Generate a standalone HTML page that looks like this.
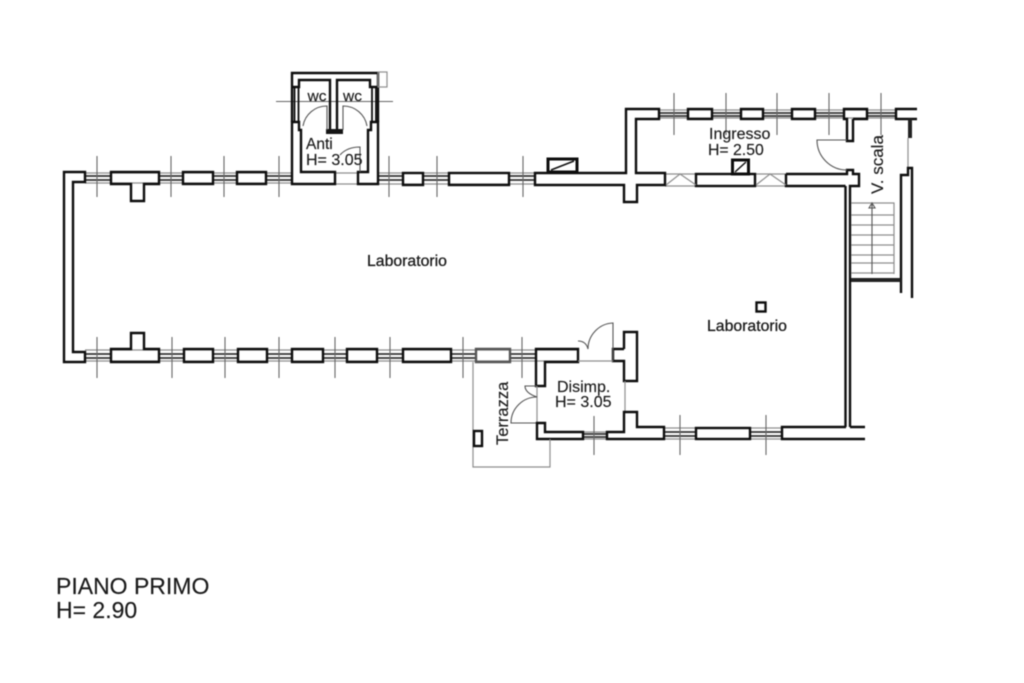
<!DOCTYPE html>
<html><head><meta charset="utf-8"><style>
html,body{margin:0;padding:0;background:#fff;width:1024px;height:683px;overflow:hidden}
svg{display:block;filter:blur(.55px)}
text{font-family:"Liberation Sans",sans-serif;fill:#1a1a1a;stroke:#1a1a1a;stroke-width:.15}
.w{fill:none;stroke:#0d0d0d;stroke-width:2.4;stroke-linejoin:miter}
.g{fill:none;stroke:#8e8e8e;stroke-width:1.2}
.d{fill:none;stroke:#666;stroke-width:1.1}
.t{fill:none;stroke:#333;stroke-width:1.7}
.a{fill:none;stroke:#555;stroke-width:1.1}
</style></head><body>
<svg width="1024" height="683" viewBox="0 0 1024 683" xmlns="http://www.w3.org/2000/svg">
<!-- window sills: grey -->
<path class="g" d="M85 173H292M378 173H535M85 183H292M378 184H535M665 174H696M755 174H786M665 186H696M755 186H786M659 110H896M659 118H896M85 350H578M85 361H578M583 432H607M583 439H607M664 428H782M664 439H782M335 173H358M335 184H358"/>
<!-- window mullions: dark -->
<path class="t" d="M85 176H111M85 180H111M159 176H183M159 180H183M213 176H237M213 180H237M266 176H292M266 180H292M378 176H403M378 180H403M423 176H449M423 180H449M509 176H535M509 180H535M659 113H688M659 116H688M712 113H741M712 116H741M763 113H792M763 116H792M815 113H844M815 116H844M867 113H896M867 116H896M85 354H111M85 358H111M159 354H184M159 358H184M213 354H238M213 358H238M267 354H292M267 358H292M323 354H347M323 358H347M377 354H403M377 358H403M451 354H476M451 358H476M510 354H536M510 358H536M583 434H607M583 437H607M664 432H696M664 436H696M750 432H782M750 436H782"/>
<!-- dimension ticks -->
<path class="d" d="M97 156V197M171 156V197M224 156V197M279 156V197M389 156V197M437 156V197M523 156V197M674 93V135M726 93V135M777 93V135M829 93V135M881 93V135M97 337V378M172 337V378M225 337V378M279 337V378M335 337V378M390 337V378M463 337V378M522 337V378M594 416V455M680 415V455M766 415V455M276 101.5H393"/>
<!-- outer left corner -->
<path class="w" d="M85 172H64V362H85V352H73V182H85Z"/>
<!-- top row -->
<path class="w" d="M111 172H159V184H144V201H131V184H111Z"/>
<rect class="w" x="183" y="172" width="30" height="12"/>
<rect class="w" x="237" y="172" width="29" height="12"/>
<rect class="w" x="403" y="173" width="20" height="12"/>
<rect class="w" x="449" y="173" width="60" height="12"/>
<!-- WC / Anti -->
<path class="w" d="M292 122V73H378V122"/>
<path class="w" d="M292 87H299V80H330V130M337 130V80H370V87H378"/>
<path class="w" style="stroke-width:1.800" d="M294.500 87V122M298.500 87V122M372 87V122M376 87V122"/>
<path class="w" d="M335 172H301V130H299V122H292V184H335ZM358 172H368V130H371V122H378V184H358Z"/>
<rect x="326" y="129" width="17" height="5" fill="#151515"/>
<rect class="g" x="378" y="72" width="9" height="15"/>
<path class="a" d="M303 126A24 24 0 0 1 327 106V130M367 126A24 24 0 0 0 343 106V130M340 155Q347 147 360 147V172"/>
<!-- central wall -->
<path class="w" d="M535 173H626V109H659V119H636V173H665V185H637V202H624V185H535Z"/>
<path class="w" d="M548 159H577V172H548Z" style="stroke-width:3"/>
<path class="a" style="stroke:#111;stroke-width:1.5" d="M551 170L574 161"/>
<!-- Ingresso -->
<rect class="w" x="688" y="109" width="24" height="10"/>
<rect class="w" x="741" y="109" width="22" height="10"/>
<rect class="w" x="792" y="109" width="23" height="10"/>
<path class="w" d="M853 119H867V109H844V119H847V141H853V119"/>
<path class="w" d="M917 109H896V119H917"/>
<rect x="908" y="119" width="4" height="19" fill="#222"/>
<path class="g" d="M908 138V168"/>
<rect class="w" x="696" y="174" width="59" height="12"/>
<rect class="w" x="732.500" y="160" width="16" height="14" style="stroke-width:3"/>
<path class="a" style="stroke:#111;stroke-width:1.5" d="M735 172L746 162"/>
<path class="w" d="M786 174H847V170H853V174H859V186H850V427M845.500 186H786V174M845.500 186V427"/>
<path class="g" d="M666 185L680 174L696 185M756 185L770 174L786 185"/>
<path class="a" d="M847 140H817A30 30 0 0 0 847 170"/>
<path class="w" d="M901 293V175H908V168H912V298"/>
<!-- stairs -->
<path class="g" d="M851 203H894V274M851 215H894M851 225H894M851 235H894M851 245H894M851 255H894M851 263H894M851 273H894"/>
<path class="a" d="M872 203V274M869 208L872 203L875 208Z"/>
<rect x="851" y="278" width="50" height="4" fill="#222"/>
<!-- bottom row -->
<path class="w" d="M111 349H131V333H144V349H159V362H111Z"/>
<rect class="w" x="184" y="349" width="29" height="13"/>
<rect class="w" x="238" y="349" width="29" height="13"/>
<rect class="w" x="292" y="349" width="31" height="13"/>
<rect class="w" x="347" y="349" width="30" height="13"/>
<rect class="w" x="403" y="349" width="48" height="13"/>
<path class="w" style="stroke:#555" d="M476 349H510V362H476Z"/>
<!-- Disimp -->
<path class="w" d="M536 349H578V362H545V386H536Z"/>
<path class="w" d="M624 349V332H637V381H624V361H613V349H624"/>
<path class="g" d="M625 381V412M578 361H613M537 386V423"/>
<path class="a" d="M613 361V323A26 26 0 0 0 588 349Q586 341 578 341"/>
<path class="a" d="M537 423H511A26 26 0 0 1 537 397Q525 393 525 386H537"/>
<path class="w" d="M537 423H545V432H583V439H537Z"/>
<path class="w" d="M607 439V432H624V412H637V427H664V439Z"/>
<rect class="w" x="696" y="428" width="54" height="11"/>
<path class="w" d="M846 427H782V439H865M850 427H865"/>
<path class="g" d="M473 362V467H550V439"/>
<rect class="w" x="474" y="431" width="8" height="15"/>
<rect class="w" x="756.500" y="302.500" width="9" height="9"/>
<!-- labels -->
<text x="367" y="266" font-size="15.800" style="stroke-width:.3">Laboratorio</text>
<text x="707" y="331" font-size="15.800" style="stroke-width:.3">Laboratorio</text>
<text x="307.500" y="101" font-size="15" textLength="19" lengthAdjust="spacingAndGlyphs">wc</text>
<text x="343" y="101" font-size="15" textLength="19" lengthAdjust="spacingAndGlyphs">wc</text>
<text x="306" y="149" font-size="15.500">Anti</text>
<text x="306" y="165" font-size="16">H= 3.05</text>
<text x="709" y="139" font-size="16">Ingresso</text>
<text x="708" y="155" font-size="15.800">H= 2.50</text>
<text x="557" y="392" font-size="16">Disimp.</text>
<text x="555" y="407" font-size="16">H= 3.05</text>
<text transform="translate(883,194) rotate(-90)" font-size="17">V. scala</text>
<text transform="translate(508,445) rotate(-90)" font-size="16.500">Terrazza</text>
<text x="56" y="594" font-size="23">PIANO PRIMO</text>
<text x="56" y="618" font-size="23">H= 2.90</text>
</svg>
</body></html>
